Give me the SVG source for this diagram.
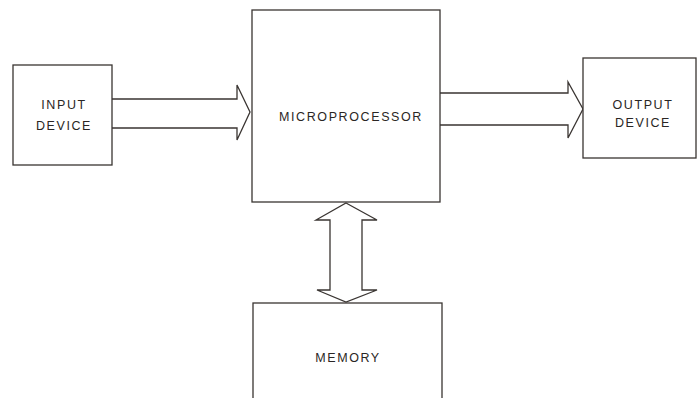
<svg xmlns="http://www.w3.org/2000/svg" width="697" height="398" viewBox="0 0 697 398">
<style>
.box{fill:#fff;stroke:#3a3532;stroke-width:1.3}
.arr{fill:#fff;stroke:#3a3532;stroke-width:1.3;stroke-linejoin:miter}
text{font-family:"Liberation Sans",Arial,sans-serif;font-size:12.5px;fill:#2a2624;letter-spacing:1.6px;text-anchor:middle}
</style>
<rect width="697" height="398" fill="#fff"/>
<g id="connectors">
<path class="arr" d="M112,99 L237,99 L237,85 L250,112 L237,140 L237,128 L112,128"/>
<path class="arr" d="M440,93 L568,93 L568,82 L583,109 L568,138 L568,125 L440,125"/>
<path class="arr" d="M346,203 L377,220 L362,220 L362,290 L377,290 L346,302 L317,290 L330,290 L330,220 L316,220 Z"/>
</g>
<g id="input">
<rect class="box" x="13" y="65" width="99" height="100"/>
<text x="64" y="109">INPUT</text>
<text x="64" y="130">DEVICE</text>
</g>
<g id="micro">
<rect class="box" x="252" y="10" width="188" height="192"/>
<text x="351" y="121">MICROPROCESSOR</text>
</g>
<g id="output">
<rect class="box" x="583" y="58" width="113" height="100"/>
<text x="643" y="109">OUTPUT</text>
<text x="643" y="127">DEVICE</text>
</g>
<g id="memory">
<rect class="box" x="253" y="303" width="189" height="110"/>
<text x="348" y="362">MEMORY</text>
</g>
</svg>
